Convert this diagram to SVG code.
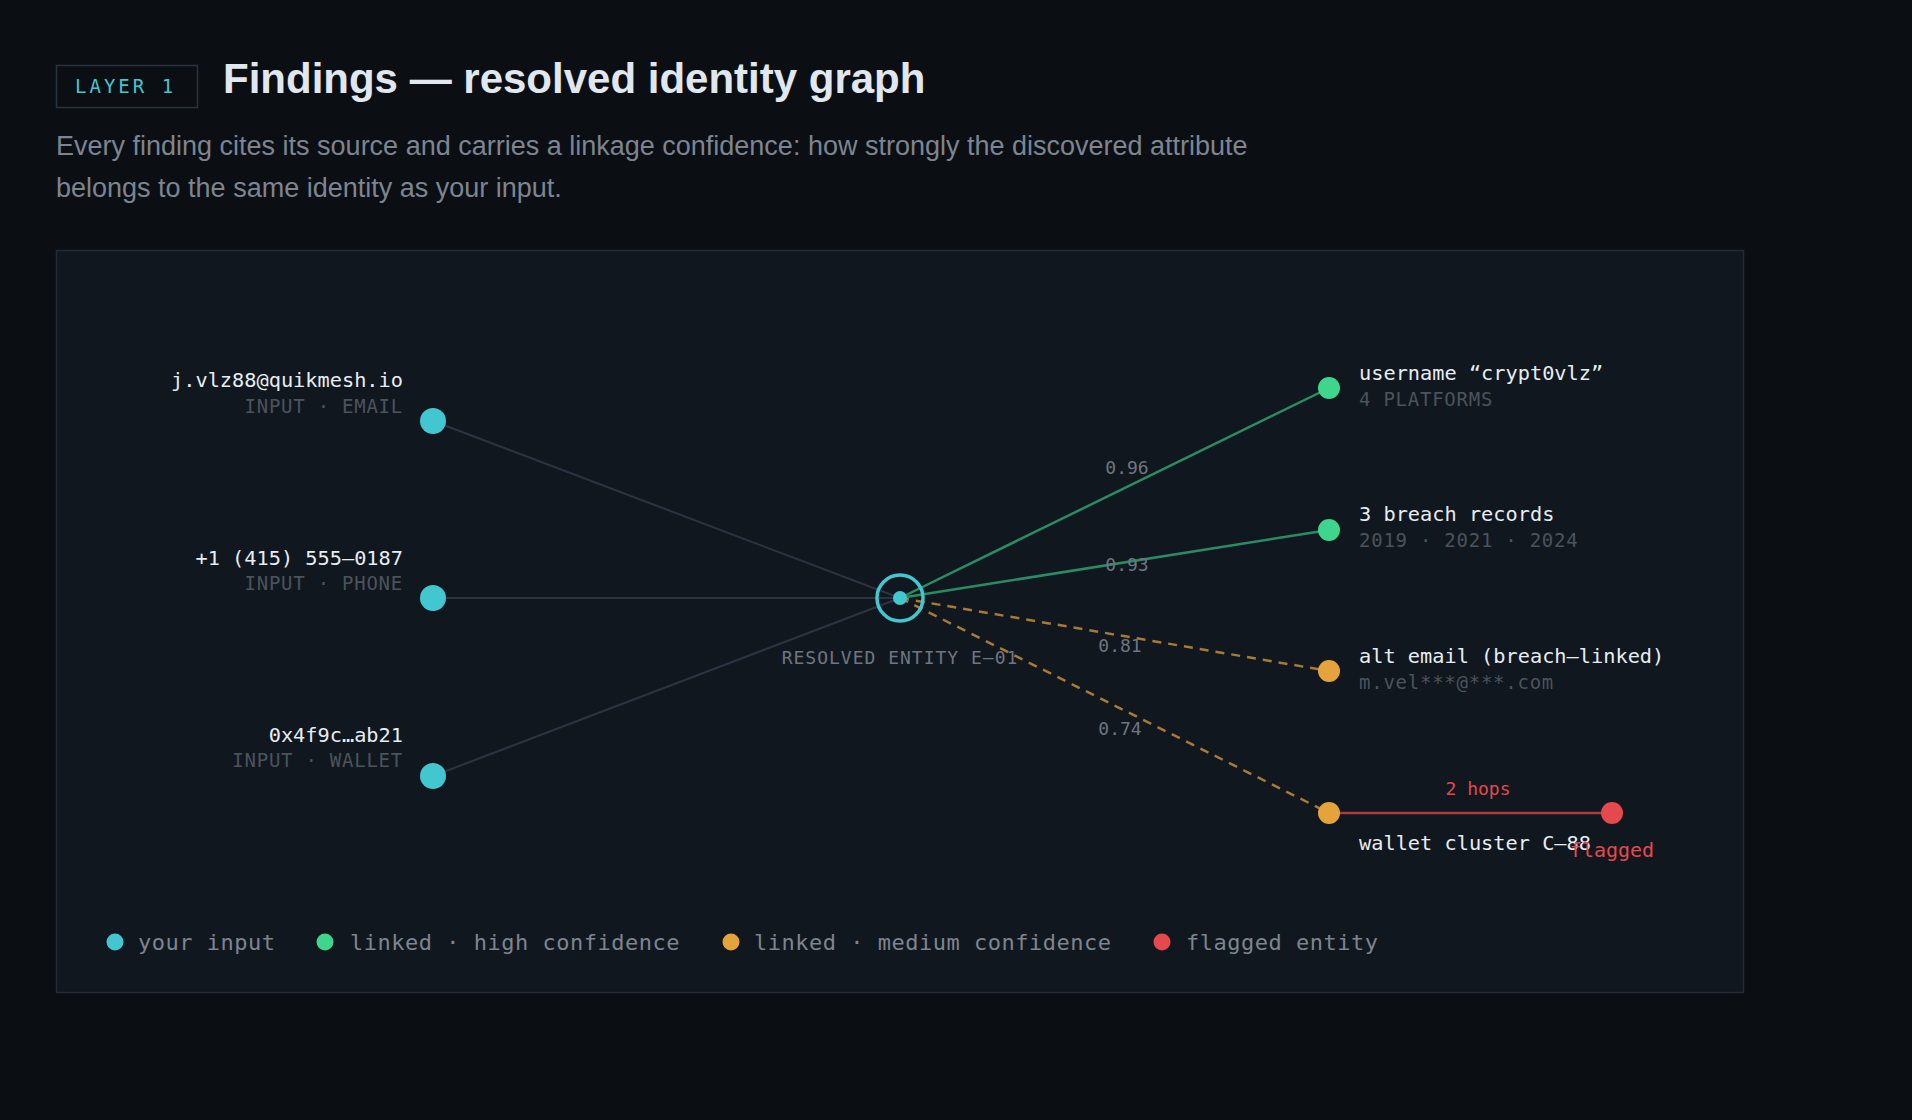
<svg xmlns="http://www.w3.org/2000/svg" width="1912" height="1120" viewBox="0 0 1912 1120">
<style>
.mono{font-family:"DejaVu Sans Mono","Liberation Mono",monospace}
.sans{font-family:"Liberation Sans",Arial,sans-serif}
.main{fill:#e6edf3;font-size:20.3px}
.sub{fill:#4b535d;font-size:19px;letter-spacing:0.75px}
.elab{fill:#6e7681;font-size:18px;text-anchor:middle}
.leg{fill:#7d8590;font-size:22px;letter-spacing:0.5px}
.e-in{stroke:#2b3440;stroke-width:2;fill:none}
.e-hi{stroke:#2a8c62;stroke-width:2.5;fill:none}
.e-med{stroke:#a87a35;stroke-width:2.5;fill:none;stroke-dasharray:9 7}
.e-flag{stroke:#b03a40;stroke-width:2.5;fill:none}
.cyan{fill:#42c7d0}.green{fill:#3dd68c}.orange{fill:#e5a43b}.red{fill:#e5484d}
</style>
<rect width="1912" height="1120" fill="#0b0f14"/>
<g id="header">
<rect x="56.5" y="65.5" width="141" height="42" fill="none" stroke="#2a323c" stroke-width="1.5"/>
<text class="mono" x="75" y="93" font-size="19" letter-spacing="3" fill="#42c7d0">LAYER 1</text>
<text class="sans" x="223" y="93" font-size="42" font-weight="bold" fill="#e1e7ee">Findings — resolved identity graph</text>
<text class="sans" x="56" y="155" font-size="27" fill="#7d8590">Every finding cites its source and carries a linkage confidence: how strongly the discovered attribute</text>
<text class="sans" x="56" y="197" font-size="27" fill="#7d8590">belongs to the same identity as your input.</text>
</g>
<rect id="panel" x="56.5" y="250.5" width="1687" height="742" fill="#11171e" stroke="#232a33" stroke-width="1.5"/>
<g id="connectors">
<line class="e-in" x1="433" y1="421" x2="900" y2="598"/>
<line class="e-in" x1="433" y1="598" x2="900" y2="598"/>
<line class="e-in" x1="433" y1="776" x2="900" y2="598"/>
<line class="e-hi" x1="900" y1="598" x2="1329" y2="388"/>
<line class="e-hi" x1="900" y1="598" x2="1329" y2="530"/>
<line class="e-med" x1="900" y1="598" x2="1329" y2="671"/>
<line class="e-med" x1="900" y1="598" x2="1329" y2="813"/>
<line class="e-flag" x1="1329" y1="813" x2="1612" y2="813"/>
<text class="mono elab" x="1127" y="474">0.96</text>
<text class="mono elab" x="1127" y="571">0.93</text>
<text class="mono elab" x="1120" y="652">0.81</text>
<text class="mono elab" x="1120" y="735">0.74</text>
<text class="mono" x="1478" y="795" font-size="18" fill="#e5484d" text-anchor="middle">2 hops</text>
</g>
<g id="center">
<circle cx="900" cy="598" r="23" fill="none" stroke="#42c7d0" stroke-width="3.5"/>
<circle class="cyan" cx="900" cy="598" r="7"/>
<text class="mono" x="900" y="664" font-size="18" letter-spacing="1" fill="#6e7681" text-anchor="middle">RESOLVED ENTITY E–01</text>
</g>
<g id="in-email">
<circle class="cyan" cx="433" cy="421" r="13"/>
<text class="mono main" x="403" y="387" text-anchor="end">j.vlz88@quikmesh.io</text>
<text class="mono sub" x="403" y="413" text-anchor="end">INPUT · EMAIL</text>
</g>
<g id="in-phone">
<circle class="cyan" cx="433" cy="598" r="13"/>
<text class="mono main" x="403" y="565" text-anchor="end">+1 (415) 555–0187</text>
<text class="mono sub" x="403" y="590" text-anchor="end">INPUT · PHONE</text>
</g>
<g id="in-wallet">
<circle class="cyan" cx="433" cy="776" r="13"/>
<text class="mono main" x="403" y="742" text-anchor="end">0x4f9c…ab21</text>
<text class="mono sub" x="403" y="767" text-anchor="end">INPUT · WALLET</text>
</g>
<g id="username">
<circle class="green" cx="1329" cy="388" r="11"/>
<text class="mono main" x="1359" y="380">username “crypt0vlz”</text>
<text class="mono sub" x="1359" y="406">4 PLATFORMS</text>
</g>
<g id="breach">
<circle class="green" cx="1329" cy="530" r="11"/>
<text class="mono main" x="1359" y="521">3 breach records</text>
<text class="mono sub" x="1359" y="547">2019 · 2021 · 2024</text>
</g>
<g id="altemail">
<circle class="orange" cx="1329" cy="671" r="11"/>
<text class="mono main" x="1359" y="663">alt email (breach–linked)</text>
<text class="mono sub" x="1359" y="689">m.vel***@***.com</text>
</g>
<g id="wallet-cluster">
<circle class="orange" cx="1329" cy="813" r="11"/>
<text class="mono main" x="1359" y="850">wallet cluster C–88</text>
</g>
<g id="flagged">
<circle class="red" cx="1612" cy="813" r="11"/>
<text class="mono" x="1612" y="857" font-size="20" fill="#e5484d" text-anchor="middle">flagged</text>
</g>
<g id="legend">
<circle class="cyan" cx="115" cy="942" r="8.5"/>
<text class="mono leg" x="138" y="950">your input</text>
<circle class="green" cx="325" cy="942" r="8.5"/>
<text class="mono leg" x="350" y="950">linked · high confidence</text>
<circle class="orange" cx="731" cy="942" r="8.5"/>
<text class="mono leg" x="754" y="950">linked · medium confidence</text>
<circle class="red" cx="1162" cy="942" r="8.5"/>
<text class="mono leg" x="1186" y="950">flagged entity</text>
</g>
</svg>
